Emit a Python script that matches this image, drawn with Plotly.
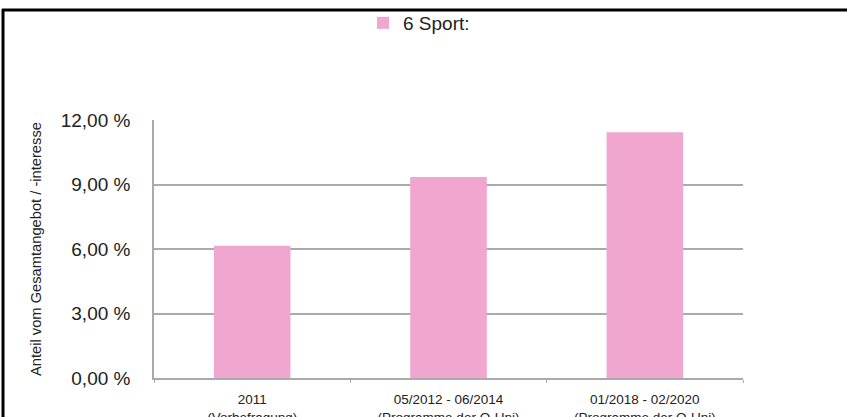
import plotly.graph_objects as go

categories = ["2011<br>(Vorbefragung)",
              "05/2012 - 06/2014<br>(Programme der O-Uni)",
              "01/2018 - 02/2020<br>(Programme der O-Uni)"]
series_name = "6 Sport:"
values = [6.15, 9.35, 11.43]
tick_vals = [0, 3, 6, 9, 12]
tick_text = ["0,00 %", "3,00 %", "6,00 %", "9,00 %", "12,00 %"]
y_title = "Anteil vom Gesamtangebot / -interesse"

W, H = 847, 417
L, R, T, B = 154, 104, 120, 39
pw, ph = W - L - R, H - T - B

def px_x(x):
    return (x - L) / pw

def px_y(y):
    return (H - B - y) / ph

fig = go.Figure()
fig.add_trace(go.Bar(x=categories, y=values, name=series_name,
                     marker=dict(color="#F0A6CF", line=dict(width=0)),
                     showlegend=True))

fig.update_layout(
    width=W, height=H,
    margin=dict(l=L, r=R, t=T, b=B, autoexpand=False),
    paper_bgcolor="white", plot_bgcolor="white",
    font=dict(family="Liberation Sans, Arial, sans-serif", color="#222"),
    bargap=0.61,
    showlegend=True,
    legend=dict(orientation="h", x=px_x(363), xanchor="left",
                y=px_y(23), yanchor="middle", itemwidth=30,
                font=dict(size=19, color="#222"),
                bgcolor="rgba(0,0,0,0)"),
    xaxis=dict(showgrid=False, showline=True, linecolor="#AAAAAA", linewidth=1.5,
               ticks="outside", tickson="boundaries", ticklen=3, tickcolor="#AAAAAA",
               ticklabelstandoff=8, automargin=False,
               tickfont=dict(size=13.5, color="#222"), fixedrange=True),
    yaxis=dict(range=[0, 12], tickvals=tick_vals, ticktext=tick_text,
               showgrid=True, gridcolor="#AAAAAA", gridwidth=1.5,
               showline=True, linecolor="#AAAAAA", linewidth=1.5,
               ticks="", ticklabelstandoff=18, automargin=False,
               tickfont=dict(size=19, color="#222"), zeroline=False),
    annotations=[dict(text=y_title, textangle=-90, xref="paper", yref="paper",
                      x=px_x(36), y=0.5, xanchor="center", yanchor="middle",
                      showarrow=False, font=dict(size=14.7, color="#222"))],
    shapes=[
        dict(type="line", xref="paper", yref="paper",
             x0=px_x(3), x1=px_x(3), y0=px_y(9), y1=px_y(H + 5),
             line=dict(color="black", width=3)),
        dict(type="line", xref="paper", yref="paper",
             x0=px_x(2), x1=px_x(W + 5), y0=px_y(10), y1=px_y(10),
             line=dict(color="black", width=3)),
    ],
)

fig.write_html("out.html")
